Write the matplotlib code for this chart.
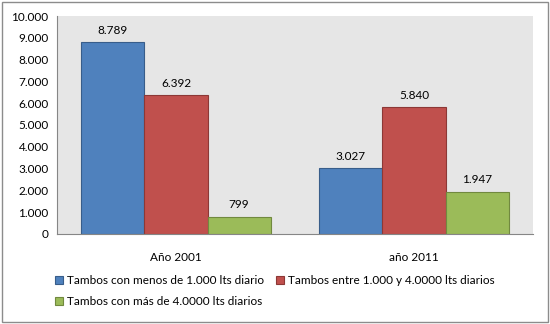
import numpy as np
import matplotlib.pyplot as plt
from matplotlib.patches import Rectangle
from matplotlib.ticker import FuncFormatter

plt.rcParams["font.family"] = ["Lato", "DejaVu Sans"]

#######################################################
### Data

categories = ["Año 2001", "año 2011"]
series_names = [
    "Tambos con menos de 1.000 lts diario",
    "Tambos entre 1.000 y 4.0000 lts diarios",
    "Tambos con más de 4.0000 lts diarios",
]
menos_1000 = [8789, 3027]
entre_1000_4000 = [6392, 5840]
mas_4000 = [799, 1947]

colors = ["#4F81BD", "#C0504D", "#9BBB59"]
edges = ["#385D8A", "#8C3836", "#71893F"]


def miles(v, pos=None):
    return f"{int(round(v)):,}".replace(",", ".")


#######################################################
### Plot

fig = plt.figure(figsize=(5.5, 3.24), dpi=100)
fig.patches.append(Rectangle((0.004, 0.006), 0.992, 0.988, transform=fig.transFigure,
                             fill=False, edgecolor="#8C8C8C", linewidth=1.0))

ax = fig.add_axes([0.1036, 0.2778, 0.8655, 0.6728])
ax.set_facecolor("#E6E6E6")

x = np.arange(len(categories))
width = 0.265
values = [menos_1000, entre_1000_4000, mas_4000]
handles = []
for i, vals in enumerate(values):
    bars = ax.bar(x + (i - 1) * width, vals, width, color=colors[i],
                  edgecolor=edges[i], linewidth=0.8, label=series_names[i])
    handles.append(bars)
    for b, v in zip(bars, vals):
        ax.text(b.get_x() + b.get_width() / 2, v + 280, miles(v),
                ha="center", va="bottom", fontsize=8.5)

ax.set_xlim(-0.5, 1.5)
ax.set_ylim(0, 10000)
ax.set_yticks(np.arange(0, 10001, 1000))
ax.yaxis.set_major_formatter(FuncFormatter(miles))
ax.set_xticks(x)
ax.set_xticklabels(categories)
ax.tick_params(axis="both", labelsize=8.5, length=0, pad=6)
ax.tick_params(axis="x", pad=13)

for s in ["top", "right"]:
    ax.spines[s].set_visible(False)
for s in ["left", "bottom"]:
    ax.spines[s].set_color("#868686")
    ax.spines[s].set_linewidth(0.8)

# reorder so rows read: item1 item2 / item3
order = [0, 2, 1]
fig.legend([handles[i] for i in order], [series_names[i] for i in order],
           loc="upper left", bbox_to_anchor=(0.1, 0.15), ncol=2,
           frameon=False, fontsize=8.5, handlelength=0.7, handleheight=0.7,
           handletextpad=0.3, columnspacing=1.0, labelspacing=0.8,
           borderaxespad=0, borderpad=0)

fig.savefig("out.png", dpi=100)
